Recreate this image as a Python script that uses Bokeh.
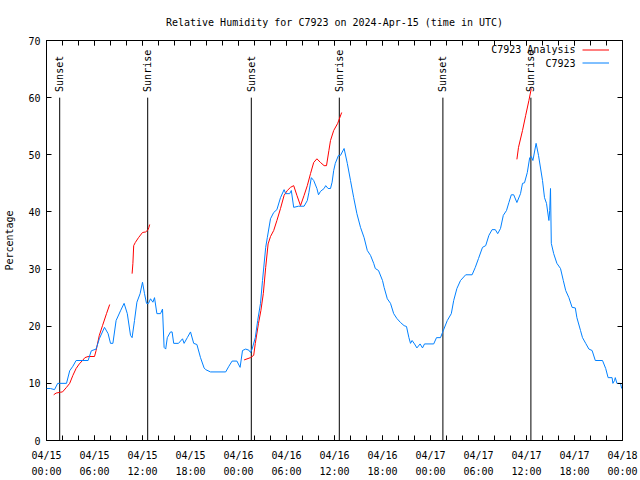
import math
from bokeh.plotting import figure
from bokeh.models import FixedTicker, LinearAxis, Range1d, Legend, LegendItem, ColumnDataSource, Label
from bokeh.embed import file_html
from bokeh.resources import INLINE

# ---- data (x in hours since 2024-04-15 00:00 UTC) ----
obs_hours = [0.0, 0.5, 1.0, 1.4, 2.5, 2.9, 3.3, 3.7, 5.2, 5.6, 6.2, 6.6, 7.25, 7.7, 8.0, 8.3, 8.7, 9.25, 9.7,
             10.1, 10.5, 10.7, 11.0, 11.3, 11.7, 12.0, 12.25, 12.5, 12.75, 13.0, 13.3, 13.5, 13.8, 14.25, 14.5,
             14.7, 14.9, 15.1, 15.5, 15.7, 15.9, 16.5, 17.0, 17.2, 17.6, 18.0, 18.4, 18.8, 19.25, 19.7, 19.9,
             20.5, 22.4, 22.8, 23.2, 23.8, 24.2, 24.5, 24.9, 25.3, 25.5, 25.7, 26.1, 26.4, 26.75, 27.0, 27.4,
             27.6, 28.0, 28.4, 28.8, 29.25, 29.7, 29.9, 30.4, 30.6, 30.9, 31.5, 32.2, 32.6, 32.8, 33.1, 33.4,
             33.8, 34.0, 34.25, 34.7, 34.9, 35.2, 35.5, 35.7, 35.9, 36.1, 36.5, 36.75, 37.2, 37.6, 38.0, 38.4,
             38.8, 39.25, 39.7, 40.1, 40.5, 40.9, 41.1, 41.5, 42.0, 42.2, 42.6, 43.0, 43.4, 43.8, 44.25, 44.7,
             45.0, 45.3, 45.5, 45.7, 46.0, 46.3, 46.7, 47.0, 47.25, 48.4, 48.75, 49.25, 49.5, 50.1, 50.6, 50.9,
             51.3, 51.75, 52.4, 53.2, 53.6, 54.0, 54.5, 54.9, 55.3, 55.7, 56.1, 56.4, 56.75, 57.1, 57.5, 57.8,
             58.1, 58.4, 58.8, 59.25, 59.5, 59.75, 60.1, 60.4, 60.6, 60.8, 61.2, 61.5, 62.0, 62.25, 62.5, 62.8,
             62.9, 63.0, 63.1, 63.4, 63.8, 64.25, 64.6, 64.9, 65.3, 65.7, 66.1, 66.3, 66.75, 67.0, 67.4, 67.8,
             68.2, 68.6, 69.5, 69.9, 70.2, 70.7, 70.8, 71.0, 71.1, 71.3, 71.75, 71.9]
obs_rh = [9.1, 9.1, 8.9, 10, 10, 12.2, 13, 14, 14, 15.7, 16, 17.8, 19.8, 18.7, 17, 17, 21, 22.7, 24,
          22.2, 18.4, 18, 21, 24.2, 25.7, 27.7, 25.7, 24, 24, 24.8, 24.2, 25, 22.2, 22.2, 23,
          16.3, 16, 18, 19, 19, 17, 17, 17.8, 17, 18, 19, 17, 16.8, 14.5, 12.7, 12.4,
          12, 12, 13, 13.9, 13.9, 12.8, 15.75, 16, 15.8, 15.4, 16, 18, 21, 24, 28, 33.8,
          35.5, 38.8, 39.9, 40.4, 42.5, 43.9, 43.2, 43.2, 43.75, 40.8, 41, 41, 42, 43.4, 46, 45.5,
          44.1, 43, 43.6, 44.1, 44.6, 44.1, 44.1, 45.2, 47.25, 48.5, 49.9, 49.9, 51.1, 48.5, 45.5, 42.5,
          39.7, 37.3, 35.5, 33.25, 32.4, 31, 30.1, 29.75, 28, 26.8, 24.8, 24, 22.2, 21.35, 20.65, 20.1,
          19.95, 18, 17, 17.5, 16.9, 16.2, 16.9, 16.2, 16.9, 16.9, 18, 18, 18.9, 21, 22.2, 24.5,
          26.6, 28, 29, 29, 30.3, 31.85, 33.8, 34.1, 35.9, 36.9, 36.9, 36.2, 37.1, 39.4, 40.25, 41.65,
          43, 43, 41.65, 43.2, 45, 45.1, 46.9, 49.5, 49.7, 49, 52, 49.9, 45.5, 42.5, 41.5, 38.5,
          40.25, 44.1, 34.5, 32.7, 31, 30.1, 28, 26.25, 25, 23.3, 23.2, 21.5, 19.25, 18, 17, 16,
          15.75, 14, 14, 12.6, 11, 11, 10, 10.5, 11, 10, 10, 9.1]

# analysis series, four separate pieces
ana1_hours = [0.9, 1.2, 1.75, 2.0, 2.5, 2.9, 3.3, 3.7, 4.1, 4.5, 4.8, 5.2, 6.0, 6.2, 6.6, 7.0, 7.5, 7.9]
ana1_rh = [8.0, 8.3, 8.45, 8.5, 9.3, 10, 11.4, 12.6, 13.4, 14, 14.5, 14.7, 14.7, 15.75, 18.4, 20.1, 22.2, 23.8]
ana2_hours = [10.7, 10.8, 10.9, 11.1, 11.5, 12.0, 12.4, 12.7, 12.8, 12.9]
ana2_rh = [29.2, 31, 34.1, 34.65, 35.5, 36.4, 36.5, 36.9, 37.3, 37.8]
ana3_hours = [24.7, 25.5, 25.9, 26.1, 26.5, 26.8, 27.1, 27.4, 27.7, 28.0, 28.4, 28.8, 29.25, 29.7, 30.1,
              30.5, 30.9, 31.3, 31.75, 32.2, 32.6, 33.0, 33.4, 33.8, 34.25, 34.7, 35.0, 35.3, 35.5, 35.9,
              36.4, 36.9]
ana3_rh = [14.1, 14.5, 14.9, 17, 20.5, 22.75, 25.7, 30.3, 34.4, 35.7, 36.75, 38.5, 40.6, 42.9, 43.75,
           44.3, 44.6, 42.9, 41.1, 42.9, 44.6, 46.7, 48.65, 49.3, 48.65, 48.1, 48.1, 50.75, 52.5, 54.25,
           55.5, 57.4]
ana4_hours = [58.8, 59.0, 59.5, 59.9, 60.3, 60.6]
ana4_rh = [49.2, 51.3, 54.25, 56.9, 59.5, 61.6]

sun_hours = [1.65, 12.65, 25.6, 36.6, 49.55, 60.55]
sun_names = ["Sunset", "Sunrise", "Sunset", "Sunrise", "Sunset", "Sunrise"]
sun_line_top = 60
sun_label_y = 61

tick_hours = [0, 6, 12, 18, 24, 30, 36, 42, 48, 54, 60, 66, 72]
tick_labels = ["04/15\n00:00", "04/15\n06:00", "04/15\n12:00", "04/15\n18:00",
               "04/16\n00:00", "04/16\n06:00", "04/16\n12:00", "04/16\n18:00",
               "04/17\n00:00", "04/17\n06:00", "04/17\n12:00", "04/17\n18:00",
               "04/18\n00:00"]
minor_tick_hours = list(range(0, 73, 2))
y_ticks = [0, 10, 20, 30, 40, 50, 60, 70]

series_names = ["C7923 Analysis", "C7923"]
TITLE = "Relative Humidity for C7923 on 2024-Apr-15 (time in UTC)"
FONT = "DejaVu Sans Mono"
RED = "#ff0000"
BLUE = "#0080ff"

p = figure(width=640, height=480, output_backend="svg", toolbar_location=None,
           x_range=Range1d(0, 72), y_range=Range1d(0, 70), title=TITLE,
           min_border_left=46, min_border_right=18, min_border_top=40, min_border_bottom=40)

p.title.align = "center"
p.title.text_font = FONT
p.title.text_font_size = "10px"
p.title.text_font_style = "normal"
p.title.text_color = "black"
p.title.text_line_height = 1.0
p.title.standoff = 26

p.grid.visible = False
p.outline_line_color = "black"
p.outline_line_alpha = 1
p.outline_line_width = 1
p.background_fill_color = "white"
p.border_fill_color = "white"

xt = FixedTicker(ticks=tick_hours, minor_ticks=minor_tick_hours)
yt = FixedTicker(ticks=y_ticks)


def style_axis(ax):
    ax.axis_line_color = None
    ax.major_tick_in = 5
    ax.major_tick_out = 0
    ax.minor_tick_in = 5
    ax.minor_tick_out = 0
    ax.major_tick_line_color = "black"
    ax.minor_tick_line_color = "black"
    ax.major_label_text_font = FONT
    ax.major_label_text_font_size = "10px"
    ax.major_label_text_color = "black"


xa = p.xaxis[0]
xa.ticker = xt
xa.major_label_overrides = {h: lab for h, lab in zip(tick_hours, tick_labels)}
style_axis(xa)
xa.major_label_text_line_height = 1.5
xa.major_label_standoff = 9

ya = p.yaxis[0]
ya.ticker = yt
style_axis(ya)
ya.minor_tick_in = 0
ya.major_label_standoff = 6
ya.axis_label = "Percentage"
ya.axis_label_text_font = FONT
ya.axis_label_text_font_size = "10px"
ya.axis_label_text_font_style = "normal"
ya.axis_label_text_color = "black"
ya.axis_label_standoff = 10

top = LinearAxis(ticker=xt, major_label_overrides={h: "" for h in tick_hours})
style_axis(top)
top.major_label_text_font_size = "0px"
top.major_label_standoff = 0
p.add_layout(top, "above")

right = LinearAxis(ticker=yt, major_label_overrides={v: "" for v in y_ticks})
style_axis(right)
right.minor_tick_in = 0
right.major_label_text_font_size = "0px"
right.major_label_standoff = 0
p.add_layout(right, "right")

# sunrise / sunset markers
sun_src = ColumnDataSource(dict(x=sun_hours, y0=[0] * len(sun_hours),
                                y1=[sun_line_top] * len(sun_hours),
                                ly=[sun_label_y] * len(sun_hours), name=sun_names))
p.segment(x0="x", y0="y0", x1="x", y1="y1", source=sun_src, line_color="black", line_width=1)
p.text(x="x", y="ly", text="name", source=sun_src, angle=math.pi / 2,
       text_align="left", text_baseline="middle", text_font_size="10px",
       text_color="black", text_font={"value": FONT})

# analysis pieces
r_red = None
for hx, vy in [(ana1_hours, ana1_rh), (ana2_hours, ana2_rh), (ana3_hours, ana3_rh), (ana4_hours, ana4_rh)]:
    r = p.line(hx, vy, line_color=RED, line_width=1)
    if r_red is None:
        r_red = r

r_blue = p.line(obs_hours, obs_rh, line_color=BLUE, line_width=1)

# gnuplot-style key: text right-aligned, sample line to its right
legend = Legend(items=[LegendItem(label="", renderers=[r_red]),
                       LegendItem(label="", renderers=[r_blue])],
                location="top_right")
legend.background_fill_alpha = 0
legend.border_line_alpha = 0
legend.glyph_width = 27
legend.glyph_height = 13
legend.label_height = 13
legend.label_width = 10
legend.label_standoff = 0
legend.spacing = 0
legend.padding = 0
legend.margin = 3
legend.label_text_font_size = "1px"
p.add_layout(legend)

key_text_x = 66.125
key_text_y = [68.34, 66.06]
for name, ky in zip(series_names, key_text_y):
    p.add_layout(Label(x=key_text_x, y=ky, text=name, text_align="right", text_baseline="middle",
                       text_font=FONT, text_font_size="10px", text_color="black"))

open("out.html", "w").write(file_html(p, INLINE))
